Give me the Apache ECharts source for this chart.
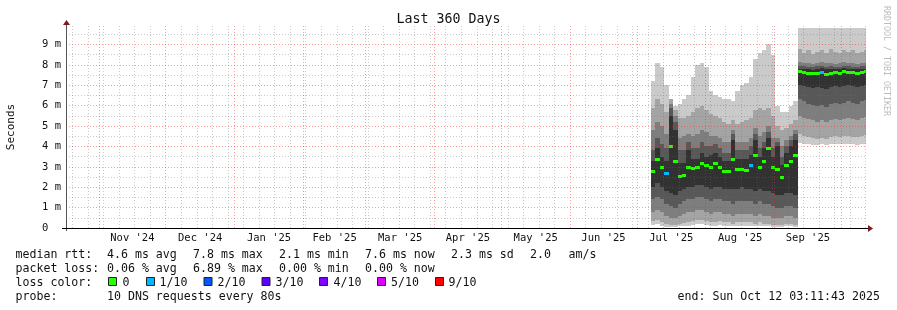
<!DOCTYPE html>
<html><head><meta charset="utf-8">
<script src="https://cdn.jsdelivr.net/npm/echarts@6/dist/echarts.min.js"></script>
<style>html,body{margin:0;padding:0;background:#fff}#c{width:897px;height:310px}</style>
</head><body><div id="c"></div>
<script>
// ---------------- data ----------------
const titleText = 'Last 360 Days';
const yAxisName = 'Seconds';
const sideText = 'RRDTOOL / TOBI OETIKER';
const endTime = Date.UTC(2025, 9, 12, 3, 11, 43);
const spanDays = 360;
const yMaxMs = 9.9;
const yTickValues = [0, 1, 2, 3, 4, 5, 6, 7, 8, 9];
const monthLabels = ["Nov '24", "Dec '24", "Jan '25", "Feb '25", "Mar '25", "Apr '25", "May '25", "Jun '25", "Jul '25", "Aug '25", "Sep '25"];
const monthStarts = [[2024,10],[2024,11],[2025,0],[2025,1],[2025,2],[2025,3],[2025,4],[2025,5],[2025,6],[2025,7],[2025,8],[2025,9]];

// RRD samples (2-day consolidation), ms
const firstSampleDay = 263.2;
const rrdStepDays = 2;
const p1 = [0.15,0.2,0.12,0.05,0.05,0.05,0.08,0.1,0.12,0.15,0.18,0.2,0.15,0.12,0.12,0.15,0.1,0.1,0.08,0.12,0.12,0.1,0.12,0.08,0.1,0.08,0.08,0.05,0.05,0.05,0.08,0.08,0.05,
  4.15,4.1,4.1,4.05,4.05,4.1,4.05,4.1,4.1,4.1,4.12,4.1,4.1,4.08,4.1,4.12];
const p2 = [0.35,0.4,0.3,0.2,0.15,0.15,0.2,0.25,0.3,0.35,0.4,0.4,0.35,0.3,0.3,0.35,0.3,0.3,0.2,0.3,0.3,0.3,0.3,0.2,0.3,0.2,0.2,0.15,0.15,0.15,0.2,0.2,0.15,
  4.6,4.5,4.45,4.4,4.35,4.4,4.35,4.45,4.5,4.45,4.5,4.5,4.45,4.45,4.5,4.55];
const p3 = [0.8,0.9,0.8,0.6,0.5,0.5,0.6,0.7,0.8,0.8,0.9,0.9,0.8,0.7,0.8,0.8,0.7,0.7,0.6,0.7,0.7,0.7,0.7,0.6,0.7,0.6,0.6,0.5,0.5,0.5,0.6,0.6,0.5,
  5.5,5.4,5.35,5.3,5.2,5.3,5.2,5.3,5.35,5.3,5.35,5.4,5.35,5.3,5.4,5.45];
const p4 = [1.4,1.5,1.4,1.2,1.1,1.0,1.2,1.3,1.4,1.4,1.5,1.5,1.4,1.3,1.4,1.4,1.3,1.3,1.2,1.3,1.3,1.3,1.3,1.2,1.3,1.2,1.2,1.1,1.0,1.0,1.1,1.1,1.0,
  6.3,6.2,6.1,6.05,6.0,6.05,5.95,6.1,6.15,6.1,6.15,6.2,6.15,6.1,6.2,6.25];
const p5 = [2.0,2.2,2.0,1.8,1.7,1.6,1.8,1.9,2.0,2.0,2.1,2.1,2.0,1.9,2.0,2.0,1.9,1.9,1.9,1.9,2.0,1.9,1.9,1.8,1.9,1.8,1.8,1.7,1.6,1.6,1.7,1.7,1.6,
  7.0,6.95,6.9,6.85,6.9,6.85,6.8,6.9,6.95,6.9,6.95,7.0,6.95,6.9,6.95,7.0];
const p6 = [3.3,3.9,3.5,3.3,5.5,4.8,3.2,3.2,3.8,3.4,3.4,3.7,3.5,3.6,3.7,3.5,3.3,3.3,4.3,3.4,3.4,3.4,3.6,4.3,3.5,3.9,4.4,3.5,4.0,3.1,3.7,4.0,4.3,
  7.8,7.8,7.78,7.75,7.8,7.82,7.78,7.8,7.78,7.8,7.82,7.8,7.8,7.78,7.8,7.8];
const p7 = [3.8,4.4,4.1,3.9,5.9,5.2,3.8,3.8,4.2,3.9,3.9,4.2,4.0,4.0,4.1,3.9,3.7,3.7,4.6,3.8,3.8,3.8,4.0,4.6,3.9,4.2,4.7,3.9,4.2,3.5,4.0,4.3,4.6,
  7.95,7.95,7.9,7.9,7.95,7.95,7.9,7.95,7.9,7.9,7.95,7.95,7.9,7.9,7.95,7.95];
const p8 = [4.8,5.2,5.0,4.6,6.1,5.5,4.4,4.5,4.6,4.5,4.6,4.8,4.7,4.5,4.5,4.4,4.2,4.2,4.8,4.2,4.2,4.2,4.4,4.9,4.5,4.7,5.0,4.4,4.4,4.0,4.3,4.5,4.8,
  8.15,8.1,8.1,8.05,8.1,8.15,8.1,8.1,8.05,8.1,8.15,8.1,8.1,8.05,8.1,8.1];
const p9 = [5.9,6.3,6.1,5.7,6.3,5.8,5.4,5.4,5.5,5.7,5.9,6.0,5.8,5.6,5.5,5.4,5.2,5.1,5.3,5.1,5.2,5.3,5.4,5.8,5.9,5.8,5.9,5.5,5.0,4.8,4.9,5.1,5.3,
  8.75,8.6,8.7,8.55,8.65,8.7,8.6,8.75,8.65,8.6,8.7,8.65,8.7,8.6,8.65,8.7];
const p10 = [7.2,8.1,7.9,7.0,6.3,6.0,6.1,6.3,6.5,7.4,8.0,8.1,7.9,6.7,6.5,6.4,6.3,6.3,6.2,6.7,7.0,7.1,7.4,8.3,8.6,8.7,9.0,8.5,6.0,5.7,5.7,6.0,6.2,
  9.82,9.82,9.82,9.82,9.82,9.82,9.82,9.82,9.82,9.82,9.82,9.82,9.82,9.82,9.82,9.82];
const medianRtt = [2.8,3.4,3.0,2.7,4.0,3.3,2.55,2.6,3.0,2.95,3.0,3.2,3.1,3.0,3.2,3.0,2.8,2.8,3.4,2.9,2.9,2.85,3.1,3.6,3.0,3.3,3.9,3.0,2.9,2.5,3.1,3.3,3.6,
  7.7,7.65,7.62,7.6,7.58,7.64,7.55,7.62,7.66,7.6,7.68,7.64,7.66,7.62,7.66,7.68];
const lossTenths = [0,0,0,1,0,0,0,0,0,0,0,0,0,0,0,0,0,0,0,0,0,0,1,0,0,0,0,0,0,0,0,0,0,
  0,0,0,0,0,1,0,0,0,0,0,0,0,0,0,0];

const lossLegend = ['0', '1/10', '2/10', '3/10', '4/10', '5/10', '9/10'];
const lossLegendTenths = [0, 1, 2, 3, 4, 5, 9];
const lossColors = ['#26ff00', '#00b8ff', '#0059ff', '#5e00ff', '#7e00ff', '#dd00ff', '#ff0000'];
const rttStats = ['4.6 ms avg', '7.8 ms max', '2.1 ms min', '7.6 ms now', '2.3 ms sd', '2.0', 'am/s'];
const lossStats = ['0.06 % avg', '6.89 % max', '0.00 % min', '0.00 % now'];
const probeText = '10 DNS requests every 80s';
const endText = 'end: Sun Oct 12 03:11:43 2025';

// ---------------- build ----------------
const DAY = 86400000;
const startTime = endTime - spanDays * DAY;
const toDay = t => (t - startTime) / DAY;
const smokeShades = ['#cacaca','#a4a4a4','#7e7e7e','#585858','#323232','#585858','#7e7e7e','#a4a4a4','#cacaca'];
const mono = 'DejaVu Sans Mono';

const samples = p1.map((v, i) => [firstSampleDay + i * rrdStepDays, p1[i], p2[i], p3[i], p4[i], p5[i], p6[i], p7[i], p8[i], p9[i], p10[i], medianRtt[i], lossTenths[i]]);

function lossColor(l) {
  let c = lossColors[0];
  lossLegendTenths.forEach((t, i) => { if (l >= t) c = lossColors[i]; });
  return c;
}

const monthStartDays = monthStarts.map(m => toDay(Date.UTC(m[0], m[1], 1)));
const monthMidDays = monthStarts.slice(0, monthLabels.length).map((m, i) => {
  const a = Date.UTC(m[0], m[1], 1), b = Date.UTC(m[0], m[1] + 1, 1);
  return toDay((a + b) / 2);
});
const weekDays = [];
for (let t = Date.UTC(2024, 9, 20); t < endTime; t += 7 * DAY) {
  const d = toDay(t);
  if (!monthStartDays.some(m => Math.abs(m - d) < 0.01)) weekDays.push(d);
}
const majorStyle = { color: 'rgba(255,30,30,0.44)', width: 1, type: [1, 2] };
const minorStyle = { color: 'rgba(110,110,110,0.36)', width: 1, type: [1, 2] };
const gridLines = [];
for (let v = 0.5; v < yMaxMs; v += 0.5) {
  const isMajor = Math.abs(v - Math.round(v)) < 1e-9;
  gridLines.push({ yAxis: v, lineStyle: isMajor ? majorStyle : minorStyle });
}
weekDays.forEach(d => gridLines.push({ xAxis: d, lineStyle: minorStyle }));
monthStartDays.forEach(d => { if (d > 0 && d < spanDays) gridLines.push({ xAxis: d, lineStyle: majorStyle }); });

const G = { left: 66, top: 26, width: 800, height: 202 };
const gBottom = G.top + G.height;
const gRight = G.left + G.width;
const arrowColor = '#7d1a1a';
const textColor = '#111';

const graphics = [
  { type: 'text', left: 'center', top: 13, style: { text: titleText, font: '13.3px ' + mono, fill: textColor } },
  { type: 'text', x: 11, y: 127, rotation: Math.PI / 2, style: { text: yAxisName, font: '11px ' + mono, fill: textColor, align: 'center', verticalAlign: 'middle' } },
  { type: 'text', x: 886, y: 61, rotation: -Math.PI / 2, style: { text: sideText, font: '8.3px ' + mono, fill: '#bdbdbd', align: 'center', verticalAlign: 'middle' } },
  { type: 'line', z: 100, shape: { x1: G.left + 0.5, y1: gBottom + 3, x2: G.left + 0.5, y2: G.top - 2 }, style: { stroke: '#555', lineWidth: 1 } },
  { type: 'polygon', z: 101, shape: { points: [[G.left - 3, G.top - 1], [G.left + 0.5, G.top - 6], [G.left + 4, G.top - 1]] }, style: { fill: arrowColor } },
  { type: 'line', z: 100, shape: { x1: G.left - 4, y1: gBottom + 0.5, x2: gRight + 2, y2: gBottom + 0.5 }, style: { stroke: '#000', lineWidth: 1 } },
  { type: 'polygon', z: 101, shape: { points: [[gRight + 2, gBottom - 3], [gRight + 7, gBottom + 0.5], [gRight + 2, gBottom + 4]] }, style: { fill: arrowColor } }
];
const legFont = '11.6px ' + mono;
function txt(s, x, y) {
  graphics.push({ type: 'text', x: x, y: y, style: { text: s, font: legFont, fill: textColor, verticalAlign: 'middle' } });
}
const colX = [107, 193, 279, 365, 451, 530, 568.5];
txt('median rtt:', 15.5, 254.5);
rttStats.forEach((s, i) => txt(s, colX[i], 254.5));
txt('packet loss:', 15.5, 268.5);
lossStats.forEach((s, i) => txt(s, colX[i], 268.5));
txt('loss color:', 15.5, 282.5);
const sqX = [108.5, 146.5, 204, 262, 319.5, 377.5, 435.5];
const lblX = [122.5, 159.5, 217.5, 275.5, 333.5, 391, 448.5];
lossLegend.forEach((s, i) => {
  graphics.push({ type: 'rect', shape: { x: sqX[i], y: 277.5, width: 8, height: 8 }, style: { fill: lossColors[i], stroke: '#222', lineWidth: 1 } });
  txt(s, lblX[i], 282.5);
});
txt('probe:', 15.5, 296.5);
txt(probeText, 107, 296.5);
txt(endText, 677.5, 296.5);

const chart = echarts.init(document.getElementById('c'), null, { renderer: 'canvas' });
chart.setOption({
  animation: false,
  backgroundColor: '#ffffff',
  grid: G,
  xAxis: {
    type: 'value', min: 0, max: spanDays,
    axisLine: { show: false }, axisTick: { show: false }, splitLine: { show: false },
    axisLabel: {
      customValues: monthMidDays,
      formatter: v => {
        let best = 0;
        monthMidDays.forEach((m, i) => { if (Math.abs(m - v) < Math.abs(monthMidDays[best] - v)) best = i; });
        return monthLabels[best];
      },
      margin: 5, fontFamily: mono, fontSize: 10.5, color: textColor
    }
  },
  yAxis: {
    type: 'value', min: 0, max: yMaxMs, interval: 1,
    axisLine: { show: false }, axisTick: { show: false }, splitLine: { show: false },
    axisLabel: {
      customValues: yTickValues,
      formatter: v => (v === 0 ? '0  ' : v + ' m'),
      margin: 5, fontFamily: mono, fontSize: 10.5, color: textColor
    }
  },
  graphic: graphics,
  series: [
    {
      type: 'custom',
      coordinateSystem: 'cartesian2d',
      silent: true,
      clip: true,
      data: samples,
      encode: { x: 0, y: [1, 10] },
      renderItem: function (params, api) {
        const d0 = api.value(0);
        const d1 = Math.min(d0 + rrdStepDays, spanDays);
        const x0 = Math.round(api.coord([d0, 0])[0]);
        const x1 = Math.round(api.coord([d1, 0])[0]);
        const ys = [];
        for (let k = 1; k <= 10; k++) ys.push(Math.round(api.coord([d0, api.value(k)])[1]));
        const children = [];
        for (let k = 0; k < 9; k++) {
          children.push({ type: 'rect', shape: { x: x0, y: ys[k + 1], width: x1 - x0, height: ys[k] - ys[k + 1] }, style: { fill: smokeShades[k] } });
        }
        const ym = Math.round(api.coord([d0, api.value(11)])[1]);
        children.push({ type: 'rect', shape: { x: x0, y: ym - 1, width: x1 - x0, height: 3 }, style: { fill: lossColor(api.value(12)) } });
        return { type: 'group', children: children };
      }
    },
    {
      type: 'line',
      data: [],
      silent: true,
      markLine: {
        silent: true, symbol: ['none', 'none'], label: { show: false },
        emphasis: { disabled: true }, animation: false,
        data: gridLines
      }
    }
  ]
});
</script>
</body></html>
